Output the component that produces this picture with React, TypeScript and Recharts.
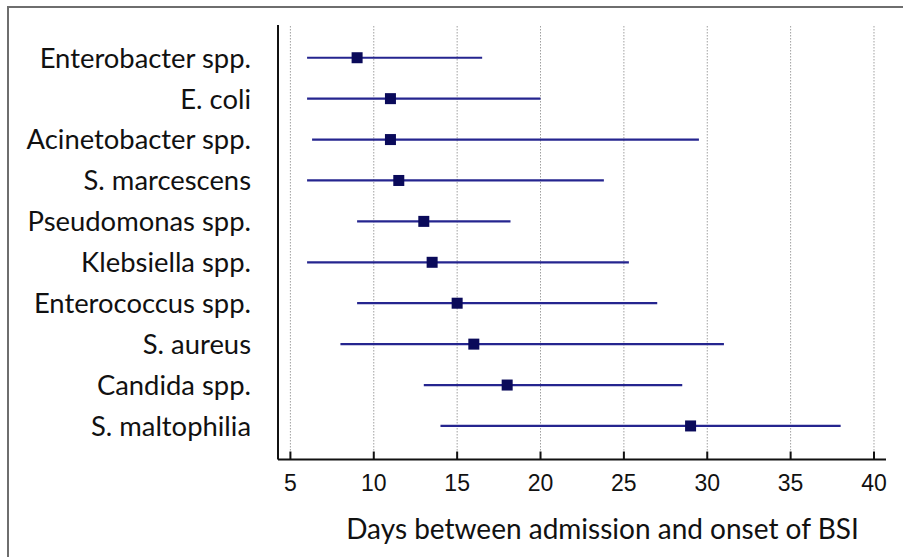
import React from 'react';
import { ScatterChart, Scatter, XAxis, YAxis, ReferenceLine, Label } from 'recharts';

const categories = [
  'Enterobacter spp.',
  'E. coli',
  'Acinetobacter spp.',
  'S. marcescens',
  'Pseudomonas spp.',
  'Klebsiella spp.',
  'Enterococcus spp.',
  'S. aureus',
  'Candida spp.',
  'S. maltophilia',
];
const medians = [9, 11, 11, 11.5, 13, 13.5, 15, 16, 18, 29];
const lows = [6, 6, 6.3, 6, 9, 6, 9, 8, 13, 14];
const highs = [16.5, 20, 29.5, 23.8, 18.2, 25.3, 27, 31, 28.5, 38];
const xTicks = [5, 10, 15, 20, 25, 30, 35, 40];
const yTicks = [0, 1, 2, 3, 4, 5, 6, 7, 8, 9];
const xTitle = 'Days between admission and onset of BSI';

const rows = categories.map((name, i) => ({
  name,
  idx: i,
  median: medians[i],
  low: lows[i],
  high: highs[i],
}));

const LABEL_FONT = 'Lato, "Open Sans", sans-serif';
const NUM_FONT = '"Liberation Sans", Arial, sans-serif';
const LINE_COLOR = '#25258f';
const MARK_COLOR = '#0a0a5a';

const XTick = (props: any) => {
  const { x, y, payload } = props;
  return (
    <g>
      <line x1={x} y1={y} x2={x} y2={y - 8} stroke="#111" strokeWidth={2} />
      <text x={x} y={y + 31} textAnchor="middle" fontFamily={NUM_FONT} fontSize={23} fill="#111">
        {payload.value}
      </text>
    </g>
  );
};

const YTick = (props: any) => {
  const { x, y, payload } = props;
  return (
    <text x={x - 27} y={y} dy="0.36em" textAnchor="end" fontFamily={LABEL_FONT} fontSize={27.4} fill="#111">
      {categories[payload.value]}
    </text>
  );
};

const TitleLabel = (props: any) => {
  const vb = props.viewBox || { x: 0, y: 0, width: 0, height: 0 };
  return (
    <text
      x={vb.x + vb.width / 2 + 20.5}
      y={vb.y + 79.5}
      textAnchor="middle"
      fontFamily={LABEL_FONT}
      fontSize={28}
      fill="#111"
    >
      {xTitle}
    </text>
  );
};

const Square = (p: any) => (
  <rect x={p.cx - 5.5} y={p.cy - 5.5} width={11} height={11} fill={MARK_COLOR} />
);

export default function App() {
  return (
    <div style={{ position: 'absolute', left: 0, top: 0, width: 903, height: 557, background: '#fff' }}>
      <div style={{ position: 'absolute', left: 8, top: 6, width: 895, height: 1.5, background: '#6e6e6e' }} />
      <div style={{ position: 'absolute', left: 7, top: 6, width: 1.5, height: 551, background: '#6e6e6e' }} />
      <div style={{ position: 'absolute', left: 0, top: 0 }}>
        <ScatterChart width={903} height={557} margin={{ top: 25, right: 17, bottom: 0, left: 8 }}>
          <XAxis
            type="number"
            dataKey="median"
            domain={[4.256, 40.72]}
            ticks={xTicks}
            allowDataOverflow
            height={97.5}
            tickLine={false}
            tickSize={0}
            tickMargin={0}
            axisLine={{ stroke: '#111', strokeWidth: 2 }}
            tick={<XTick />}
            interval={0}
          >
            <Label content={<TitleLabel />} />
          </XAxis>
          <YAxis
            type="number"
            dataKey="idx"
            domain={[-0.8, 9.82]}
            ticks={yTicks}
            allowDataOverflow
            reversed
            width={270}
            tickLine={false}
            tickSize={0}
            tickMargin={0}
            axisLine={{ stroke: '#111', strokeWidth: 2 }}
            tick={<YTick />}
            interval={0}
          />
          {xTicks.map((t) => (
            <ReferenceLine key={'g' + t} x={t} stroke="#a0a0a0" strokeDasharray="1.5 1.5" strokeWidth={1} />
          ))}
          {rows.map((r) => (
            <ReferenceLine
              key={r.name}
              segment={[
                { x: r.low, y: r.idx },
                { x: r.high, y: r.idx },
              ]}
              stroke={LINE_COLOR}
              strokeWidth={2.2}
            />
          ))}
          <Scatter data={rows} shape={<Square />} isAnimationActive={false} />
        </ScatterChart>
      </div>
    </div>
  );
}
